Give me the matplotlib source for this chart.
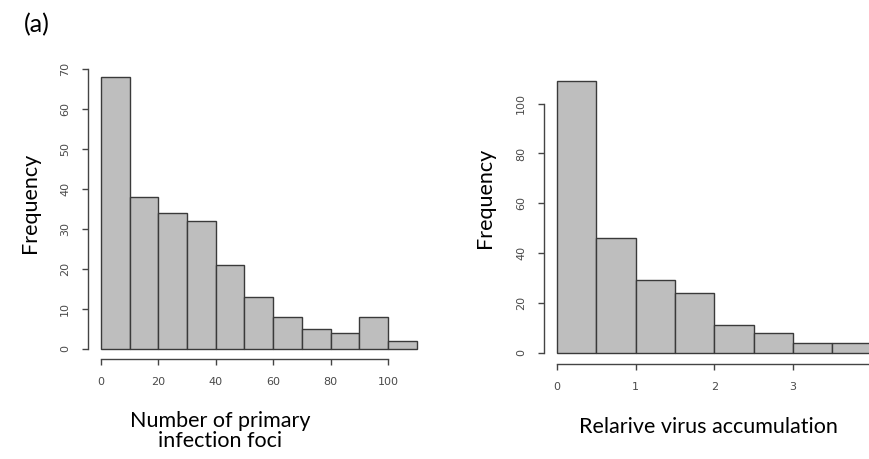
import matplotlib.pyplot as plt
import numpy as np

# Panel (a), left: number of primary infection foci
foci_edges = [0, 10, 20, 30, 40, 50, 60, 70, 80, 90, 100, 110]
foci_counts = [68, 38, 34, 32, 21, 13, 8, 5, 4, 8, 2]
foci_xticks = [0, 20, 40, 60, 80, 100]
foci_yticks = [0, 10, 20, 30, 40, 50, 60, 70]

# Panel (a), right: relative virus accumulation
virus_edges = [0, 0.5, 1.0, 1.5, 2.0, 2.5, 3.0, 3.5, 4.0]
virus_counts = [109, 46, 29, 24, 11, 8, 4, 4]
virus_xticks = [0, 1, 2, 3, 4]
virus_yticks = [0, 20, 40, 60, 80, 100]

W, H = 870, 459
BAR_FILL = '#bebebe'
BAR_EDGE = '#3a3a3a'
AXIS_COL = '#444444'
TICK_COL = '#4a4a4a'


def px_axes(fig, left, right, top, bottom):
    return fig.add_axes([left / W, (H - bottom) / H, (right - left) / W, (bottom - top) / H])


def r_hist(ax, edges, counts, xticks, yticks, xlim, ylim):
    edges = np.asarray(edges)
    ax.bar(edges[:-1], counts, width=np.diff(edges), align='edge',
           color=BAR_FILL, edgecolor=BAR_EDGE, linewidth=1.0)
    ax.set_xlim(*xlim)
    ax.set_ylim(*ylim)
    for s in ('top', 'right'):
        ax.spines[s].set_visible(False)
    for s in ('left', 'bottom'):
        ax.spines[s].set_color(AXIS_COL)
        ax.spines[s].set_linewidth(1.0)
    ax.spines['left'].set_bounds(yticks[0], yticks[-1])
    ax.spines['bottom'].set_bounds(xticks[0], xticks[-1])
    ax.set_xticks(xticks)
    ax.set_yticks(yticks)
    ax.tick_params(direction='out', length=4, width=1.0, color=AXIS_COL,
                   labelcolor=TICK_COL, labelsize=8, pad=9)
    for lab in ax.get_yticklabels():
        lab.set_rotation(90)
        lab.set_verticalalignment('center')
    ax.set_facecolor('none')


fig = plt.figure(figsize=(8.7, 4.59), dpi=100)
fig.patch.set_facecolor('white')

# left histogram: x=0 at 101px, 2.87 px/unit; y=0 at 349px, 4 px/unit
ax1 = px_axes(fig, 88, 423, 61, 359)
r_hist(ax1, foci_edges, foci_counts, foci_xticks, foci_yticks,
       (-4.5, 112.2), (-2.5, 72))

# right histogram: x=0 at 557px, 78.7 px/unit; y=0 at 352.7px, 2.49 px/unit
ax2 = px_axes(fig, 544, 888, 74, 364)
r_hist(ax2, virus_edges, virus_counts, virus_xticks, virus_yticks,
       (-0.165, 4.206), (-4.55, 111.9))

label_font = dict(family=['Lato', 'DejaVu Sans'], fontsize=15.5, color='black')
fig.text(24 / W, 1 - 25 / H, '(a)', ha='left', va='center',
         family=['Lato', 'DejaVu Sans'], fontsize=18)
fig.text(30 / W, 1 - 203 / H, 'Frequency', rotation=90, ha='center', va='center', **label_font)
fig.text(485 / W, 1 - 198 / H, 'Frequency', rotation=90, ha='center', va='center', **label_font)
fig.text(220 / W, 1 - 431 / H, 'Number of primary\ninfection foci', ha='center', va='center',
         linespacing=1.05, **label_font)
fig.text(708 / W, 1 - 427 / H, 'Relarive virus accumulation', ha='center', va='center', **label_font)

fig.savefig('out.png', dpi=100)
